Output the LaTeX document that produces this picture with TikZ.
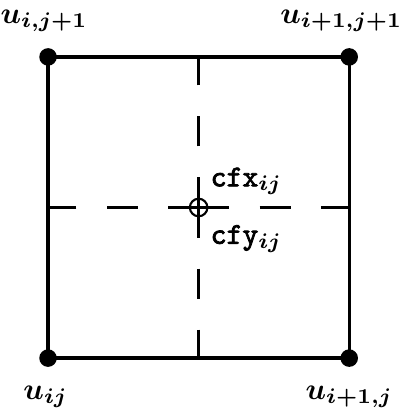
\documentclass[tikz,border=0pt]{standalone}
\usepackage{amsmath, amssymb}
\usepackage{fontspec}
\usepackage{tikz}
\usetikzlibrary{positioning}
\newfontfamily\fluxfont[FakeBold=2.5]{Latin Modern Mono}
\tikzset{>=latex}
\tikzset{gridpt/.style={circle, fill=black, inner sep=0pt, minimum size=5.8pt}}
\tikzset{fluxpt/.style={circle, draw, line width=0.7pt, inner sep=0pt, minimum size=5.8pt}}
\tikzset{halfline/.style={line width=0.75pt, dash pattern=on 10.2pt off 10pt}}
\tikzset{ptlabel/.style={inner sep=0pt, font=\boldmath}}

\begin{document}
\begin{tikzpicture}[x=3.5cm, y=3.5cm]
        \useasboundingbox (-0.1595, -0.169) rectangle (1.163, 1.189);
        \node[gridpt] (sw) at (0, 0) {}; %
        \node[gridpt] (se) at (1, 0) {}; %
        \node[gridpt] (ne) at (1, 1) {}; %
        \node[gridpt] (nw) at (0, 1) {}; %
        \node[fluxpt] (c) at (0.5, 0.5) {}; %
        \coordinate (s) at (0.5, 0); %
        \coordinate (n) at (0.5, 1); %
        \coordinate (w) at (0, 0.5); %
        \coordinate (e) at (1, 0.5); %
        \draw[line width=1.1pt] (sw.center) -- (se.center) -- (ne.center) -- (nw.center) -- cycle; %
        \draw[halfline] (c.center) -- (n); %
        \draw[halfline] (c.center) -- (s); %
        \draw[halfline] (c.center) -- (w); %
        \draw[halfline] (c.center) -- (e); %
        \node[ptlabel, above=4.9pt of nw, xshift=-1.3pt] (unw) {$u_{i,j+1}$}; %
        \node[ptlabel, above=4.9pt of ne, xshift=-2.6pt] (une) {$u_{i+1,j+1}$}; %
        \node[ptlabel, below=5.9pt of sw, xshift=-0.8pt] (usw) {$u_{ij}$}; %
        \node[ptlabel, below=5.9pt of se] (use) {$u_{i+1,j}$}; %
        \node[ptlabel, anchor=base west, xshift=3.8pt, yshift=7pt] (cfx) at (c.center) {{\fluxfont cfx}$_{ij}$}; %
        \node[ptlabel, anchor=base west, xshift=3.8pt, yshift=-12pt] (cfy) at (c.center) {{\fluxfont cfy}$_{ij}$}; %
      \end{tikzpicture}
\end{document}
